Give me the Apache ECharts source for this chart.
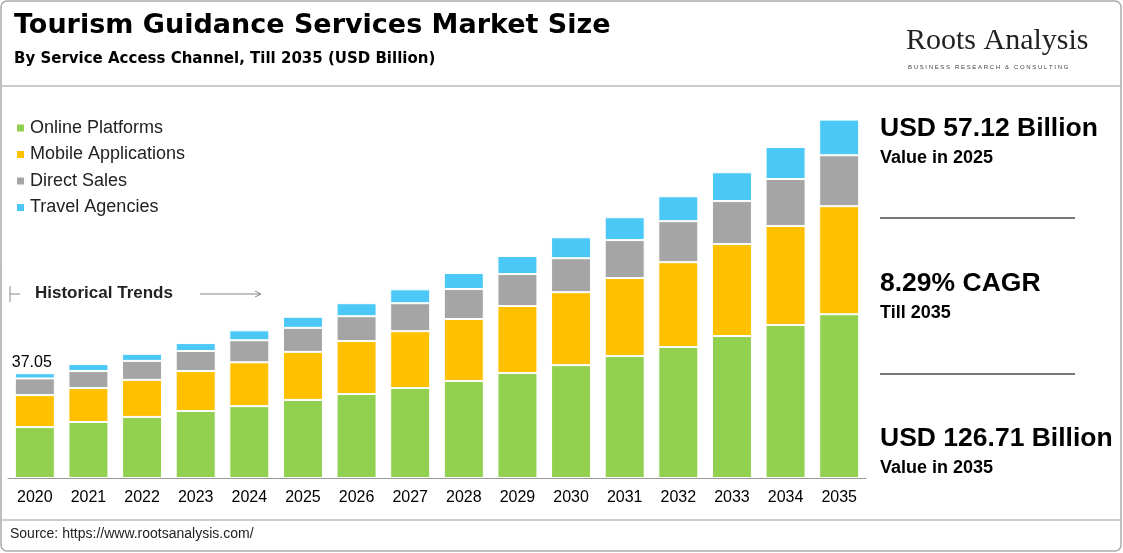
<!DOCTYPE html>
<html><head><meta charset="utf-8">
<script src="https://cdn.jsdelivr.net/npm/echarts@6/dist/echarts.min.js"></script>
<style>html,body{margin:0;padding:0;background:#fff}#c{width:1123px;height:553px}</style>
</head><body><div id="c"></div>
<script>
const years = ['2020','2021','2022','2023','2024','2025','2026','2027','2028','2029','2030','2031','2032','2033','2034','2035'];
const online = [18.0,19.8,21.6,23.7,25.4,27.6,29.7,31.8,34.3,37.1,39.9,43.1,46.3,50.2,54.1,57.9];
const mobile = [11.3,12.0,13.1,14.1,15.5,17.0,18.7,20.1,21.9,23.7,25.8,27.6,30.0,32.5,35.0,38.2];
const direct = [5.9,6.0,6.7,7.1,7.8,8.5,8.8,9.9,10.6,11.3,12.0,13.4,14.5,15.2,16.6,18.0];
const agencies = [1.85,2.5,2.5,2.8,3.5,3.9,4.6,4.9,5.7,6.4,7.4,8.1,8.8,10.2,11.3,12.6];
const names = ['Online Platforms','Mobile Applications','Direct Sales','Travel Agencies'];
const colors = ['#92d050','#ffc000','#a5a5a5','#4bc8f5'];
const chart = echarts.init(document.getElementById('c'));
const ser = [online,mobile,direct,agencies].map((d,i)=>({
  name:names[i], type:'bar', stack:'t', data:d, barWidth:40,
  itemStyle:{color:colors[i], borderColor:'#fff', borderWidth:1},
  label: i===3 ? {show:true, position:'top', formatter:p=>p.dataIndex===0?'37.05':'', color:'#000', fontSize:16, fontFamily:'Arial', offset:[-3,2]} : {show:false}
}));
const F='Liberation Sans, Arial';
chart.setOption({
  animation:false,
  textStyle:{fontFamily:F},
  grid:{left:8,right:257,top:82,bottom:75},
  legend:{orient:'vertical', left:10, top:114, itemWidth:9, itemHeight:9, itemGap:8.5, icon:'rect',
    textStyle:{fontSize:18, color:'#222', fontFamily:F}, data:names},
  xAxis:{type:'category', data:years, axisTick:{show:false},
    axisLine:{lineStyle:{color:'#999'}}, axisLabel:{fontSize:16,color:'#000',margin:12,fontFamily:F}},
  yAxis:{type:'value', min:0, max:140, show:false, splitLine:{show:false}},
  series:ser,
  graphic:[
    {type:'rect', shape:{x:1,y:1,width:1120,height:550,r:6}, style:{fill:'none',stroke:'#aaa',lineWidth:1.5}},
    {type:'text', left:14, top:12, style:{text:'Tourism Guidance Services Market Size', font:'bold 27px DejaVu Sans', fill:'#000'}},
    {type:'text', left:14, top:52, style:{text:'By Service Access Channel, Till 2035 (USD Billion)', font:'bold 15px DejaVu Sans', fill:'#000'}},
    {type:'text', left:906, top:26, style:{text:'Roots Analysis', font:'30px Liberation Serif, serif', fill:'#222'}},
    {type:'text', left:908, top:64, style:{text:'B U S I N E S S   R E S E A R C H   &   C O N S U L T I N G', font:'6px '+F, fill:'#444'}},
    {type:'line', shape:{x1:2,y1:86,x2:1121,y2:86}, style:{stroke:'#bbb',lineWidth:1.5}},
    {type:'line', shape:{x1:2,y1:520,x2:1121,y2:520}, style:{stroke:'#bbb',lineWidth:1.5}},
    {type:'text', left:10, top:527, style:{text:'Source: https://www.rootsanalysis.com/', font:'14px '+F, fill:'#222'}},
    {type:'text', left:35, top:285, style:{text:'Historical Trends', font:'bold 17px '+F, fill:'#222'}},
    {type:'line', shape:{x1:10,y1:286,x2:10,y2:302}, style:{stroke:'#888',lineWidth:1}},
    {type:'line', shape:{x1:10,y1:294,x2:20,y2:294}, style:{stroke:'#888',lineWidth:1}},
    {type:'line', shape:{x1:200,y1:294,x2:260,y2:294}, style:{stroke:'#888',lineWidth:1}},
    {type:'polyline', shape:{points:[[255,291],[261,294],[255,297]]}, style:{stroke:'#888',fill:'none',lineWidth:1}},
    {type:'text', left:880, top:115, style:{text:'USD 57.12 Billion', font:'bold 26.5px '+F, fill:'#000'}},
    {type:'text', left:880, top:149, style:{text:'Value in 2025', font:'bold 18px '+F, fill:'#000'}},
    {type:'line', shape:{x1:880,y1:218,x2:1075,y2:218}, style:{stroke:'#777',lineWidth:2}},
    {type:'text', left:880, top:270, style:{text:'8.29% CAGR', font:'bold 26.5px '+F, fill:'#000'}},
    {type:'text', left:880, top:304, style:{text:'Till 2035', font:'bold 18px '+F, fill:'#000'}},
    {type:'line', shape:{x1:880,y1:374,x2:1075,y2:374}, style:{stroke:'#777',lineWidth:2}},
    {type:'text', left:880, top:425, style:{text:'USD 126.71 Billion', font:'bold 26.5px '+F, fill:'#000'}},
    {type:'text', left:880, top:459, style:{text:'Value in 2035', font:'bold 18px '+F, fill:'#000'}}
  ]
});
</script></body></html>
